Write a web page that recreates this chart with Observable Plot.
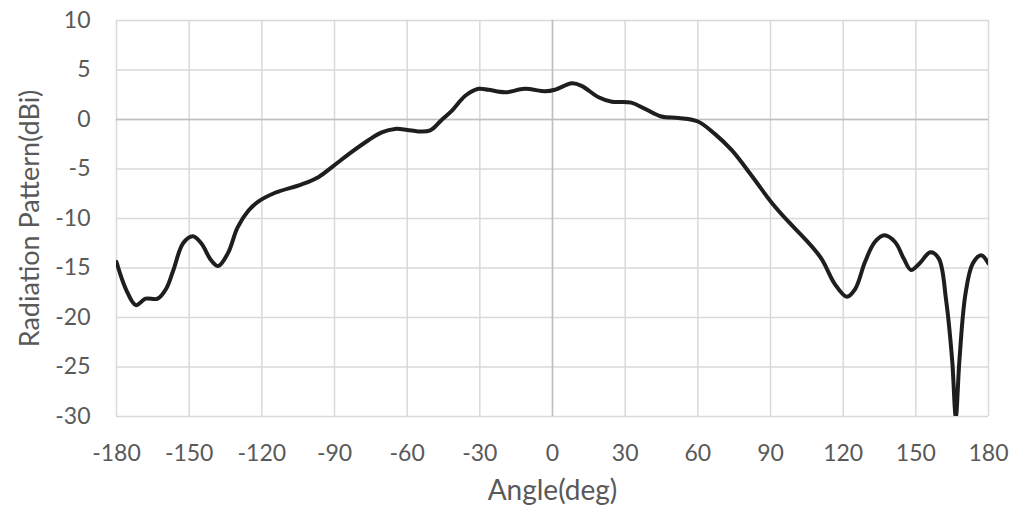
<!DOCTYPE html>
<html>
<head>
<meta charset="utf-8">
<script src="https://cdn.jsdelivr.net/npm/d3@7"></script>
<script src="https://cdn.jsdelivr.net/npm/@observablehq/plot@0.6"></script>
<style>
  html, body { margin: 0; padding: 0; background: #fff; }
  #chart svg { display: block; }
</style>
</head>
<body>
<div id="chart"></div>
<script>
const angles = [-180, -176, -172, -168, -163, -159.5, -156.5, -152.5, -148.5, -145, -141, -138, -134, -130, -125.5, -121.5, -114.5, -103.5, -96.5, -90, -83, -76, -70.5, -65, -60, -55.5, -50.5, -46, -41.5, -36, -30.5, -26.5, -19.5, -11.5, -3, 1, 8, 12, 19, 24.5, 32.5, 38, 45, 52, 60, 67, 74, 82, 90.5, 97.5, 104, 111, 116.5, 121.5, 125, 129, 133, 137, 141.5, 145, 148, 151.5, 156, 159.5, 162.5, 165, 166.5, 168, 170.5, 173.5, 177, 180];
const gains = [-14.4, -17.2, -18.75, -18.1, -18.1, -17.1, -15.2, -12.5, -11.8, -12.5, -14.2, -14.8, -13.5, -10.9, -9.2, -8.3, -7.4, -6.55, -5.8, -4.6, -3.3, -2.1, -1.3, -0.95, -1.05, -1.2, -1.1, -0.1, 0.9, 2.4, 3.1, 3.0, 2.75, 3.1, 2.85, 3.0, 3.65, 3.4, 2.25, 1.8, 1.7, 1.1, 0.3, 0.15, -0.2, -1.45, -3.1, -5.6, -8.4, -10.35, -12.0, -14.05, -16.6, -17.9, -17.1, -14.4, -12.4, -11.7, -12.4, -14.05, -15.2, -14.55, -13.4, -14.05, -18.25, -24.3, -30, -24.3, -17.6, -14.55, -13.7, -14.55];
const xTicks = [-180, -150, -120, -90, -60, -30, 0, 30, 60, 90, 120, 150, 180];
const yTicks = [10, 5, 0, -5, -10, -15, -20, -25, -30];
const xTitle = "Angle(deg)";
const yTitle = "Radiation Pattern(dBi)";

const data = angles.map((a, i) => ({angle: a, gain: gains[i]}));
const font = "Lato, 'Liberation Sans', sans-serif";
const textColor = "#595959";

const chart = Plot.plot({
  width: 1034,
  height: 513,
  marginLeft: 116,
  marginRight: 46,
  marginTop: 20,
  marginBottom: 97,
  style: {fontFamily: font, color: textColor, background: "#fff"},
  x: {domain: [-180, 180], type: "linear"},
  y: {domain: [-30, 10], type: "linear"},
  marks: [
    Plot.gridX(xTicks, {stroke: "#d9d9d9", strokeOpacity: 1, strokeWidth: 1.5}),
    Plot.gridY(yTicks, {stroke: "#d9d9d9", strokeOpacity: 1, strokeWidth: 1.5}),
    Plot.ruleX([0], {stroke: "#bfbfbf", strokeWidth: 1.5}),
    Plot.ruleY([0], {stroke: "#bfbfbf", strokeWidth: 1.5}),
    Plot.axisX(xTicks, {tickSize: 0, tickPadding: 28, fontSize: 23, label: null, fill: textColor, tickFormat: d => String(d)}),
    Plot.axisY(yTicks, {tickSize: 0, tickPadding: 26, fontSize: 23, label: null, fill: textColor, tickFormat: d => String(d)}),
    Plot.line(data, {x: "angle", y: "gain", stroke: "#1e1e1e", strokeWidth: 4, curve: "catmull-rom", clip: true}),
    Plot.text([xTitle], {frameAnchor: "bottom", dy: 75, fontSize: 28, fill: textColor, lineAnchor: "middle", textAnchor: "middle"}),
    Plot.text([yTitle], {frameAnchor: "left", dx: -86, rotate: -90, fontSize: 27, fill: textColor, lineAnchor: "middle", textAnchor: "middle"})
  ]
});
document.getElementById("chart").appendChild(chart);
</script>
</body>
</html>
